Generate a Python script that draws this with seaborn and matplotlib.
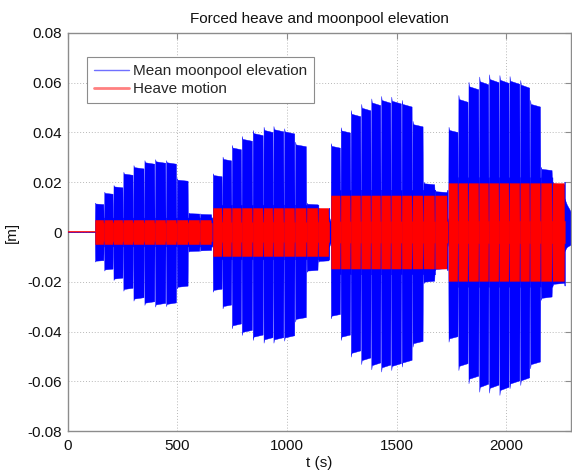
import numpy as np
import pandas as pd
import matplotlib
matplotlib.use("Agg")
import matplotlib.pyplot as plt
from matplotlib.lines import Line2D
import seaborn as sns

# ---------------- data ----------------
# packet start / end times (s) for the four forcing blocks
pkt_start = [
    [124, 166, 208, 253, 299, 349, 398, 448, 497, 550, 603],
    [661, 705, 748, 793, 843, 892, 937, 986, 1036, 1089, 1142],
    [1199, 1244, 1290, 1337, 1383, 1428, 1474, 1522, 1571, 1621, 1674],
    [1735, 1780, 1826, 1875, 1920, 1967, 2013, 2062, 2107, 2156, 2209],
]
pkt_end = [
    [158, 200, 246, 287, 337, 387, 436, 487, 539, 595, 653],
    [694, 740, 785, 831, 881, 930, 975, 1024, 1077, 1135, 1188],
    [1233, 1279, 1325, 1370, 1419, 1464, 1510, 1560, 1613, 1664, 1727],
    [1770, 1819, 1864, 1913, 1958, 2006, 2051, 2099, 2150, 2202, 2262],
]
# moonpool elevation envelope: maxima and minima per packet (m)
moon_max = [
    [0.0118, 0.0162, 0.0189, 0.0242, 0.0269, 0.0289, 0.0293, 0.0289, 0.0217, 0.0078, 0.0075],
    [0.0236, 0.0303, 0.0350, 0.0386, 0.0410, 0.0423, 0.0426, 0.0417, 0.0363, 0.0117, 0.0097],
    [0.0357, 0.0421, 0.0490, 0.0515, 0.0537, 0.0547, 0.0544, 0.0531, 0.0447, 0.0202, 0.0169],
    [0.0423, 0.0551, 0.0604, 0.0625, 0.0634, 0.0631, 0.0627, 0.0611, 0.0531, 0.0262, 0.0202],
]
moon_min = [
    [-0.0119, -0.0155, -0.0193, -0.0236, -0.0276, -0.0293, -0.0300, -0.0298, -0.0227, -0.0079, -0.0076],
    [-0.0240, -0.0307, -0.0387, -0.0414, -0.0434, -0.0445, -0.0445, -0.0437, -0.0360, -0.0160, -0.0120],
    [-0.0347, -0.0434, -0.0501, -0.0531, -0.0552, -0.0561, -0.0555, -0.0541, -0.0461, -0.0206, -0.0153],
    [-0.0441, -0.0555, -0.0608, -0.0642, -0.0646, -0.0655, -0.0628, -0.0615, -0.0548, -0.0273, -0.0215],
]
moon_between = [0.0058, 0.0110, 0.0170, 0.0220]   # envelope level between packets
heave_amp = [0.0049, 0.0097, 0.0147, 0.0197]        # forced heave amplitude per block
heave_between = [0.0037, 0.0040, 0.0043, 0.0045]    # heave level between packets
tail_t = [2262, 2275, 2294]
tail_max = [0.0140, 0.0110, 0.0080]
tail_min = [-0.0080, -0.0060, -0.0050]
lead_t = [0, 124]
lead_val = [0.0, 0.0]

x_ticks = [0, 500, 1000, 1500, 2000]
y_ticks = [-0.08, -0.06, -0.04, -0.02, 0, 0.02, 0.04, 0.06, 0.08]
y_ticklabels = ["-0.08", "-0.06", "-0.04", "-0.02", "0", "0.02", "0.04", "0.06", "0.08"]

BLUE = "#0000ff"
RED = "#ff0000"

# ---------------- figure ----------------
sns.set_style("white")
plt.rcParams["font.family"] = ["Liberation Sans", "DejaVu Sans"]
plt.rcParams["font.size"] = 11

fig = plt.figure(figsize=(5.72, 4.73), dpi=100)
ax = fig.add_axes([67.7 / 572, 42 / 473, (571 - 67.7) / 572, 398 / 473])

# moonpool elevation: one filled envelope per packet (ring-down reaches the next packet)
for b in range(4):
    starts, ends = pkt_start[b], pkt_end[b]
    g = moon_between[b]
    for i, (ts, te) in enumerate(zip(starts, ends)):
        a, m = moon_max[b][i], moon_min[b][i]
        gu, gl = min(g, a), max(-g, m)
        nxt = starts[i + 1] if i + 1 < len(starts) else te + 4
        tt = np.array([ts, ts + 0.8, ts + 3, nxt - 3.5, nxt - 2.2, nxt + 0.5])
        uu = np.array([gu, a, a * 0.97, a * 0.95, gu, gu])
        ll = np.array([gl, m, m * 0.97, m * 0.95, gl, gl])
        ax.fill_between(tt, ll, uu, color=BLUE, lw=0.3, zorder=2)
    if b + 1 < 4:
        nb = pkt_start[b + 1][0]
        ax.fill_between([ends[-1] + 3, nb + 0.5], [-0.006, -0.004], [0.006, 0.004],
                        color=BLUE, lw=0.3, zorder=2)
ax.fill_between(tail_t, tail_min, tail_max, color=BLUE, lw=0.3, zorder=2)

# heave motion packets
for b in range(4):
    ra, rg = heave_amp[b], heave_between[b]
    starts, ends = pkt_start[b], pkt_end[b]
    for i, (ts, te) in enumerate(zip(starts, ends)):
        nxt = starts[i + 1] if i + 1 < len(starts) else te + 4
        tt = np.array([ts, ts + 0.8, nxt - 4.5, nxt - 3.2, nxt + 0.3])
        uu = np.array([rg, ra, ra, rg, rg])
        ax.fill_between(tt, -uu, uu, color=RED, lw=0.2, zorder=3)

lead_df = pd.DataFrame({"t": lead_t, "v": lead_val})
sns.lineplot(data=lead_df, x="t", y="v", color=RED, lw=1.2, ax=ax, zorder=3)
sns.lineplot(data=lead_df, x="t", y="v", color=BLUE, lw=0.6, alpha=0.6, ax=ax, zorder=4)

ax.set_xlim(0, 2294)
ax.set_ylim(-0.08, 0.08)
ax.set_xticks(x_ticks)
ax.set_yticks(y_ticks)
ax.set_yticklabels(y_ticklabels)
ax.grid(True, color="#b8b8b8", linestyle=(0, (1, 2)), lw=0.7)
ax.set_axisbelow(True)
for s in ax.spines.values():
    s.set_color("#8c8c8c")
    s.set_linewidth(1.0)
ax.tick_params(direction="in", top=True, right=True, length=4, color="#8c8c8c",
               labelsize=11, labelcolor="#111111")
ax.tick_params(axis="x", pad=6)
ax.tick_params(axis="y", pad=4)

ax.set_title("Forced heave and moonpool elevation", fontsize=11, pad=7, color="#111111")
ax.set_xlabel("t (s)", fontsize=11, color="#111111")
ax.set_ylabel("[m]", fontsize=11, color="#111111")
ax.xaxis.set_label_coords(0.5, -0.062)
ax.yaxis.set_label_coords(-0.097, 0.5)

handles = [Line2D([0], [0], color="#7070ff", lw=1.0),
           Line2D([0], [0], color="#ff8080", lw=2.0)]
leg = ax.legend(handles, ["Mean moonpool elevation", "Heave motion"],
                loc="upper left", bbox_to_anchor=(19.5 / 503.3, 1 - 24 / 398),
                fontsize=11, frameon=True, fancybox=False, framealpha=1,
                edgecolor="#8c8c8c", handlelength=2.3, handletextpad=0.25,
                borderpad=0.45, labelspacing=0.3, borderaxespad=0)
leg.get_frame().set_linewidth(0.8)

fig.savefig("out.png", dpi=100)
